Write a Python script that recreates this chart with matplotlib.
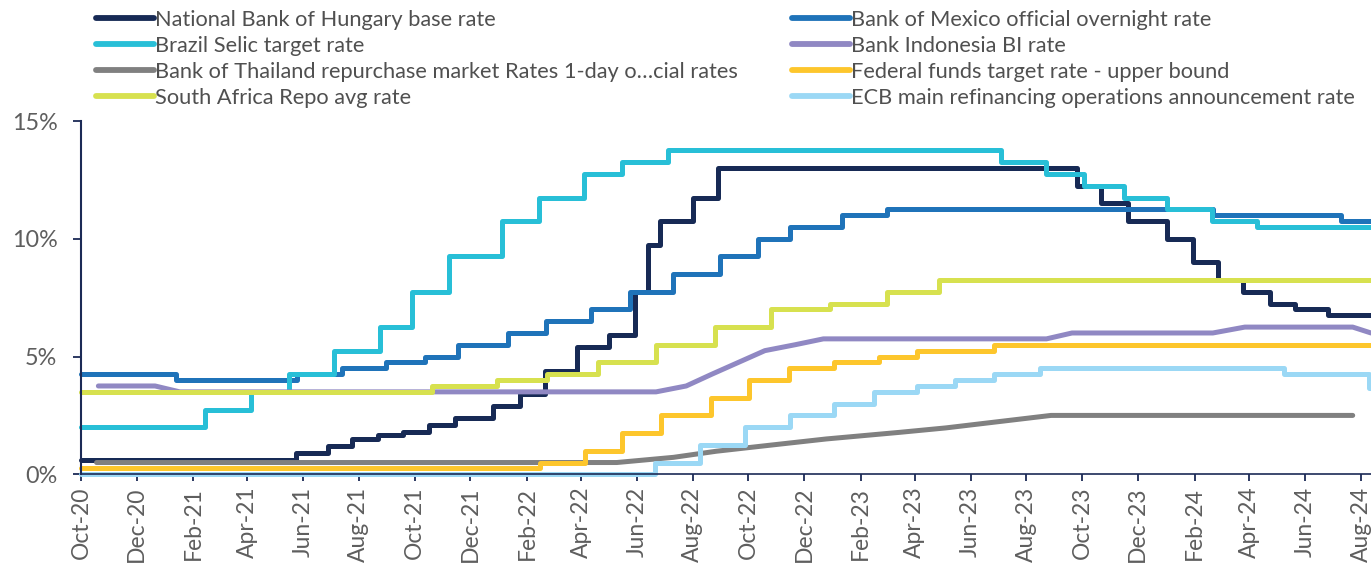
import matplotlib
matplotlib.use("Agg")
import matplotlib.pyplot as plt
import matplotlib.dates as mdates
import pandas as pd
from matplotlib.lines import Line2D

plt.rcParams['font.family'] = ['Lato', 'DejaVu Sans']

END = "2024-08-12"
START = "2020-10-01"

hungary_dates = ["2020-10-01", "2021-05-24", "2021-06-28", "2021-07-24", "2021-08-22", "2021-09-18",
                 "2021-10-17", "2021-11-14", "2021-12-26", "2022-01-24", "2022-02-21", "2022-03-28",
                 "2022-05-02", "2022-05-30", "2022-06-13", "2022-06-26", "2022-08-01", "2022-08-29",
                 "2023-09-25", "2023-10-22", "2023-11-20", "2024-01-02", "2024-01-30", "2024-02-27",
                 "2024-03-25", "2024-04-23", "2024-05-21", "2024-06-26", END]
hungary_rates = [0.6, 0.9, 1.2, 1.5, 1.65, 1.8, 2.1, 2.4, 2.9, 3.4, 4.4, 5.4, 5.9, 7.75, 9.75, 10.75,
                 11.75, 13.0, 12.25, 11.5, 10.75, 10.0, 9.0, 8.25, 7.75, 7.25, 7.0, 6.75, 6.75]

mexico_dates = ["2020-10-01", "2021-01-13", "2021-05-25", "2021-07-13", "2021-08-31", "2021-10-12",
                "2021-11-17", "2022-01-11", "2022-02-22", "2022-04-12", "2022-05-25", "2022-07-10",
                "2022-08-31", "2022-10-12", "2022-11-16", "2023-01-11", "2023-03-02", "2024-02-21",
                "2024-07-10", END]
mexico_rates = [4.25, 4.0, 4.25, 4.5, 4.75, 5.0, 5.5, 6.0, 6.5, 7.0, 7.75, 8.5, 9.25, 10.0, 10.5,
                11.0, 11.25, 11.0, 10.75, 10.75]

brazil_dates = ["2020-10-01", "2021-02-14", "2021-04-05", "2021-05-16", "2021-07-05", "2021-08-24",
                "2021-09-28", "2021-11-08", "2022-01-04", "2022-02-14", "2022-04-04", "2022-05-16",
                "2022-07-05", "2023-07-04", "2023-08-22", "2023-10-03", "2023-11-16", "2024-01-02",
                "2024-02-20", "2024-04-09", END]
brazil_rates = [2.0, 2.75, 3.5, 4.25, 5.25, 6.25, 7.75, 9.25, 10.75, 11.75, 12.75, 13.25, 13.75,
                13.25, 12.75, 12.25, 11.75, 11.25, 10.75, 10.5, 10.5]

indonesia_dates = ["2020-10-20", "2020-12-21", "2021-01-17", "2022-06-22", "2022-07-25", "2022-08-22",
                   "2022-09-20", "2022-10-19", "2022-11-21", "2022-12-22", "2023-08-23", "2023-09-20",
                   "2024-02-21", "2024-03-27", "2024-07-23", END]
indonesia_rates = [3.75, 3.75, 3.5, 3.5, 3.75, 4.25, 4.75, 5.25, 5.5, 5.75, 5.75, 6.0, 6.0, 6.25,
                   6.25, 6.0]

thailand_dates = ["2020-10-18", "2022-05-10", "2022-07-11", "2022-08-27", "2022-10-28", "2022-12-25",
                  "2023-03-15", "2023-05-05", "2023-08-28", "2024-07-23"]
thailand_rates = [0.5, 0.5, 0.72, 0.98, 1.25, 1.5, 1.78, 1.97, 2.5, 2.5]

fed_dates = ["2020-10-01", "2022-02-15", "2022-04-05", "2022-05-16", "2022-06-27", "2022-08-21",
             "2022-10-02", "2022-11-14", "2023-01-03", "2023-02-21", "2023-04-03", "2023-06-27", END]
fed_rates = [0.25, 0.5, 1.0, 1.75, 2.5, 3.25, 4.0, 4.5, 4.75, 5.0, 5.25, 5.5, 5.5]

safrica_dates = ["2020-10-01", "2021-10-20", "2021-12-30", "2022-02-23", "2022-04-20", "2022-06-22",
                 "2022-08-25", "2022-10-26", "2022-12-29", "2023-03-02", "2023-04-27", END]
safrica_rates = [3.5, 3.75, 4.0, 4.25, 4.75, 5.5, 6.25, 7.0, 7.25, 7.75, 8.25, 8.25]

ecb_dates = ["2020-10-01", "2022-06-21", "2022-08-09", "2022-09-27", "2022-11-15", "2023-01-03",
             "2023-02-15", "2023-04-03", "2023-05-15", "2023-06-27", "2023-08-16", "2024-05-09",
             "2024-08-10", END]
ecb_rates = [0.0, 0.5, 1.25, 2.0, 2.5, 3.0, 3.5, 3.75, 4.0, 4.25, 4.5, 4.25, 3.65, 3.65]

labels = ["National Bank of Hungary base rate",
          "Bank of Mexico official overnight rate",
          "Brazil Selic target rate",
          "Bank Indonesia BI rate",
          "Bank of Thailand repurchase market Rates 1-day o\u2026cial rates",
          "Federal funds target rate - upper bound",
          "South Africa Repo avg rate",
          "ECB main refinancing operations announcement rate"]

colors = ["#172a55", "#1f73b9", "#28bfd7", "#9088c3", "#808080", "#fdc62c", "#d7e14f", "#9bd8f5"]

series = [(hungary_dates, hungary_rates, True),
          (mexico_dates, mexico_rates, True),
          (brazil_dates, brazil_rates, True),
          (indonesia_dates, indonesia_rates, False),
          (thailand_dates, thailand_rates, False),
          (fed_dates, fed_rates, True),
          (safrica_dates, safrica_rates, True),
          (ecb_dates, ecb_rates, True)]

W, H = 1371, 565
fig = plt.figure(figsize=(W / 100, H / 100), dpi=100)
ax = fig.add_axes([81 / W, 1 - 474.3 / H, 1 - 81 / W, (474.3 - 121) / H])

navy = "#1b2a56"
for (d, v, step), lab, col in zip(series, labels, colors):
    x = pd.to_datetime(d)
    ax.plot(x, v, color=col, lw=3.6, label=lab,
            drawstyle="steps-post" if step else "default",
            solid_capstyle="round", solid_joinstyle="round", clip_on=False)

ax.set_xlim(pd.Timestamp(START), pd.Timestamp(END))
ax.set_ylim(0, 15)
ax.set_yticks([0, 5, 10, 15])
ax.set_yticklabels(["0%", "5%", "10%", "15%"])
ax.xaxis.set_major_locator(mdates.MonthLocator(bymonth=[2, 4, 6, 8, 10, 12]))
ax.xaxis.set_major_formatter(mdates.DateFormatter("%b-%y"))

for s in ["top", "right"]:
    ax.spines[s].set_visible(False)
ax.spines["left"].set_color(navy)
ax.spines["left"].set_linewidth(1.5)
ax.spines["bottom"].set_color(navy)
ax.spines["bottom"].set_linewidth(1.2)

ax.tick_params(axis="y", length=6, width=1.3, color=navy, pad=11, labelsize=16.8, labelcolor="#5e5e5e")
ax.tick_params(axis="x", length=5, width=1.3, color=navy, pad=4, labelsize=16.5, labelcolor="#5e5e5e",
               labelrotation=90)


def mk(i):
    return Line2D([], [], color=colors[i], lw=4.2, solid_capstyle="round")


leg_kw = dict(frameon=False, borderpad=0, borderaxespad=0, handlelength=2.65, handletextpad=0.05,
              labelspacing=0.27, fontsize=15.7, labelcolor="#505050")
col1 = [0, 2, 4, 6]
col2 = [1, 3, 5, 7]
fig.legend([mk(i) for i in col1], [labels[i] for i in col1], loc="upper left",
           bbox_to_anchor=(96 / W, 1 - 10 / H), **leg_kw)
fig.legend([mk(i) for i in col2], [labels[i] for i in col2], loc="upper left",
           bbox_to_anchor=(792 / W, 1 - 10 / H), **leg_kw)

fig.savefig("out.png", dpi=100)
